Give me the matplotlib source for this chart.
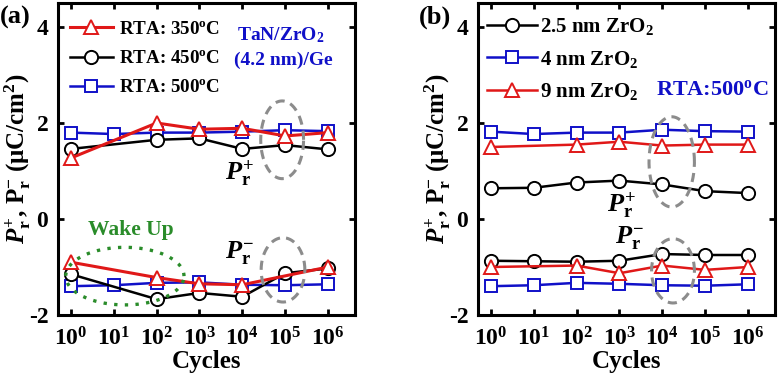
import numpy as np
import matplotlib
matplotlib.use('Agg')
import matplotlib.pyplot as plt

plt.rcParams.update({
    'font.family': ['Liberation Serif', 'DejaVu Serif'],
    'font.weight': 'bold',
    'axes.labelweight': 'bold',
    'mathtext.fontset': 'custom',
    'mathtext.rm': 'Liberation Serif:bold',
    'mathtext.bf': 'Liberation Serif:bold',
    'mathtext.it': 'Liberation Serif:italic:bold',
    'axes.unicode_minus': False,
})

# ---------------- data ----------------
cycles = [1, 10, 100, 1e3, 1e4, 1e5, 1e6]
# panel (a)
a350_pos_x = [1, 100, 1e3, 1e4, 1e5, 1e6]
a350_pos = [1.27, 2.00, 1.87, 1.89, 1.73, 1.80]
a350_neg_x = [1, 100, 1e3, 1e4, 1e6]
a350_neg = [-0.90, -1.22, -1.35, -1.37, -1.00]
a450_x = [1, 100, 1e3, 1e4, 1e5, 1e6]
a450_pos = [1.46, 1.65, 1.68, 1.46, 1.54, 1.45]
a450_neg = [-1.15, -1.67, -1.54, -1.62, -1.13, -1.03]
a500_pos = [1.80, 1.77, 1.80, 1.80, 1.82, 1.85, 1.83]
a500_neg = [-1.40, -1.38, -1.33, -1.32, -1.37, -1.38, -1.36]
# panel (b)
b25_pos = [0.64, 0.65, 0.76, 0.80, 0.72, 0.58, 0.54]
b25_neg = [-0.87, -0.88, -0.89, -0.87, -0.73, -0.75, -0.75]
b4_pos = [1.82, 1.77, 1.80, 1.80, 1.86, 1.83, 1.82]
b4_neg = [-1.40, -1.38, -1.33, -1.35, -1.38, -1.39, -1.36]
b9_x = [1, 100, 1e3, 1e4, 1e5, 1e6]
b9_pos = [1.50, 1.55, 1.61, 1.53, 1.55, 1.55]
b9_neg = [-1.00, -0.97, -1.13, -0.97, -1.06, -1.00]

xticks = [1, 10, 100, 1e3, 1e4, 1e5, 1e6]
xticklabels = [r'$\mathbf{10^{%d}}$' % i for i in range(7)]
yticks = [-2, 0, 2, 4]

RED = '#e01818'
BLUE = '#1010c8'
BLACK = 'black'
GRAY = '#8c8c8c'
GREEN = '#2a8c2a'

fig = plt.figure(figsize=(7.8, 3.77), dpi=100)
axa = fig.add_axes([58/780, 1-315/377, 297/780, 312/377])
axb = fig.add_axes([478/780, 1-315/377, 297/780, 312/377])

lw = 1.8
mew = 1.4

def series(ax, x, y, color, marker, ms, label=None, lwid=lw):
    ax.plot(x, y, color=color, lw=lwid, marker=marker, ms=ms, mfc='white',
            mec=color, mew=mew, label=label)

def ellipse(ax, cx, a, cy, b, **kw):
    t = np.linspace(0, 2*np.pi, 300)
    ax.plot(10**(cx + a*np.cos(t)), cy + b*np.sin(t), **kw)

# ---- panel (a)
series(axa, cycles, a500_pos, BLUE, 's', 8.5, 'RTA: 500$^{\\mathbf{o}}$C')
series(axa, cycles, a500_neg, BLUE, 's', 8.5)
series(axa, a450_x, a450_pos, BLACK, 'o', 9.5, 'RTA: 450$^{\\mathbf{o}}$C')
series(axa, a450_x, a450_neg, BLACK, 'o', 9.5)
series(axa, a350_pos_x, a350_pos, RED, '^', 10, 'RTA: 350$^{\\mathbf{o}}$C', 2.2)
series(axa, a350_neg_x, a350_neg, RED, '^', 10, None, 2.2)

ellipse(axa, 4.93, 0.50, 1.65, 0.81, color=GRAY, lw=2.2, ls=(0, (3, 2)))
ellipse(axa, 4.95, 0.51, -1.06, 0.67, color=GRAY, lw=2.2, ls=(0, (3, 2)))
ellipse(axa, 1.26, 1.38, -1.19, 0.60, color=GREEN, lw=2.4, ls=(0, (1, 2.2)))

h, l = axa.get_legend_handles_labels()
axa.legend(h[::-1], l[::-1], loc='upper left', bbox_to_anchor=(0.04, 0.943),
           frameon=False, fontsize=13.7, handlelength=2.26, handletextpad=0.3,
           labelspacing=0.62, borderpad=0, borderaxespad=0)

axa.text(0.75, 0.897, 'TaN/ZrO$_{\\mathbf{2}}$', transform=axa.transAxes,
         color=BLUE, fontsize=14, ha='center', va='center')
axa.text(0.76, 0.817, '(4.2 nm)/Ge', transform=axa.transAxes,
         color=BLUE, fontsize=14, ha='center', va='center')
axa.text(0.246, 0.272, 'Wake Up', transform=axa.transAxes,
         color=GREEN, fontsize=15.5, ha='center', va='center')
axa.text(0.613, 0.455, r'$\mathit{P}_{\mathrm{r}}^{\mathrm{+}}$', transform=axa.transAxes,
         fontsize=19, ha='center', va='center')
axa.text(0.613, 0.199, r'$\mathit{P}_{\mathrm{r}}^{\mathrm{-}}$', transform=axa.transAxes,
         fontsize=19, ha='center', va='center')

# ---- panel (b)
series(axb, cycles, b25_pos, BLACK, 'o', 9.5, '2.5 nm ZrO$_{\\mathbf{2}}$')
series(axb, cycles, b25_neg, BLACK, 'o', 9.5)
series(axb, cycles, b4_pos, BLUE, 's', 8.5, '4 nm ZrO$_{\\mathbf{2}}$')
series(axb, cycles, b4_neg, BLUE, 's', 8.5)
series(axb, b9_x, b9_pos, RED, '^', 10, '9 nm ZrO$_{\\mathbf{2}}$')
series(axb, b9_x, b9_neg, RED, '^', 10)

ellipse(axb, 4.22, 0.53, 1.19, 0.94, color=GRAY, lw=2.2, ls=(0, (3, 2)))
ellipse(axb, 4.25, 0.50, -1.08, 0.67, color=GRAY, lw=2.2, ls=(0, (3, 2)))

axb.legend(loc='upper left', bbox_to_anchor=(0.03, 0.958),
           frameon=False, fontsize=15, handlelength=2.4, handletextpad=0.15,
           labelspacing=0.55, borderpad=0, borderaxespad=0)
axb.text(0.788, 0.721, 'RTA:500$^{\\mathbf{o}}$C', transform=axb.transAxes,
         color=BLUE, fontsize=16, ha='center', va='center')
axb.text(0.485, 0.353, r'$\mathit{P}_{\mathrm{r}}^{\mathrm{+}}$', transform=axb.transAxes,
         fontsize=19, ha='center', va='center')
axb.text(0.512, 0.247, r'$\mathit{P}_{\mathrm{r}}^{\mathrm{-}}$', transform=axb.transAxes,
         fontsize=19, ha='center', va='center')

ylabel = r'$\mathit{P}_{\mathrm{r}}^{\mathrm{+}}$, P$_{\mathrm{r}}^{\mathrm{-}}$ (μC/cm$^{\mathrm{2}}$)'
for ax in (axa, axb):
    ax.set_xscale('log')
    ax.set_xlim(10**-0.3, 10**6.63)
    ax.set_ylim(-2, 4.5)
    ax.set_xticks(xticks)
    ax.set_xticklabels(xticklabels)
    ax.minorticks_off()
    ax.set_yticks(yticks)
    ax.set_yticklabels([str(v) for v in yticks])
    ax.tick_params(direction='in', top=True, right=True, length=4, width=2,
                   labelsize=17)
    ax.tick_params(axis='x', pad=8.5)
    ax.tick_params(axis='y', pad=7)
    for s in ax.spines.values():
        s.set_linewidth(2.2)
    ax.set_xlabel('Cycles', fontsize=18, labelpad=0)
    ax.set_ylabel(ylabel, fontsize=18)
    ax.yaxis.set_label_coords(-0.084, 0.5)

fig.text(0.0, 1-17/377, '(a)', fontsize=19, ha='left', va='center')
fig.text(419/780, 1-17/377, '(b)', fontsize=19, ha='left', va='center')

fig.savefig('out.png', dpi=100)
